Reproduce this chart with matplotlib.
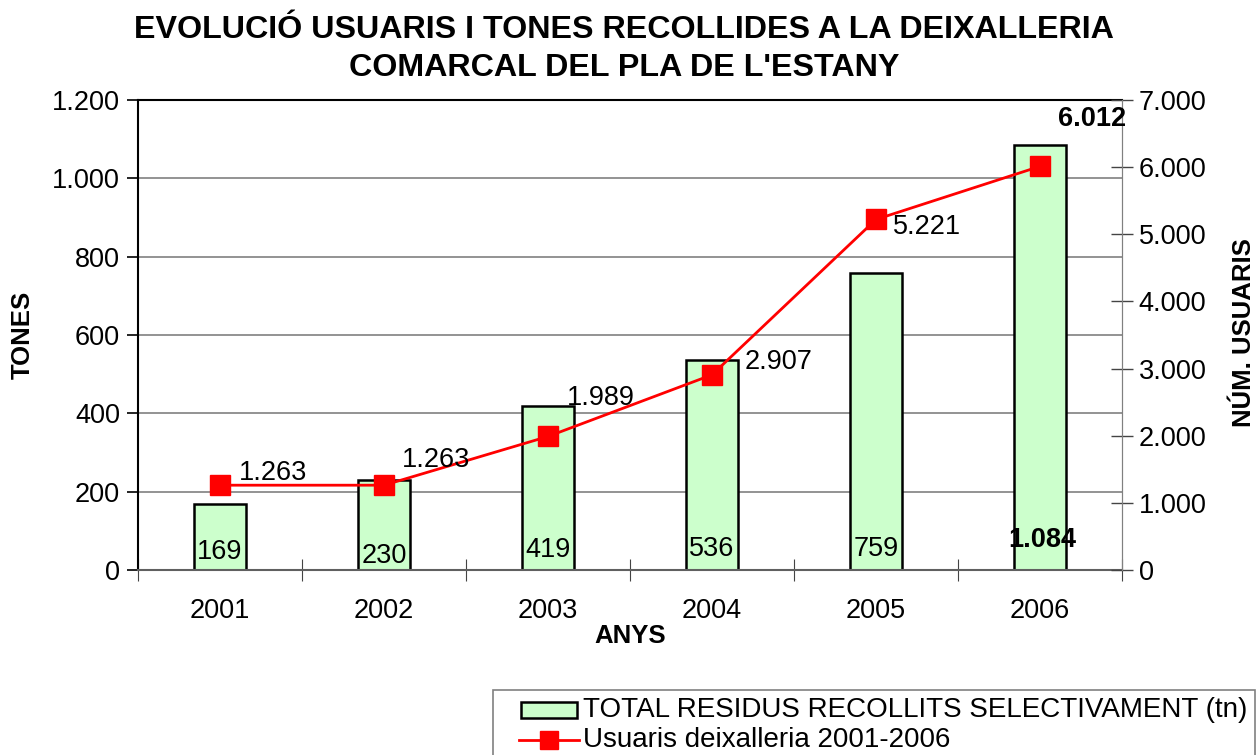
import matplotlib
matplotlib.use("Agg")
import matplotlib.pyplot as plt
from matplotlib.patches import Rectangle
from matplotlib.lines import Line2D

plt.rcParams['font.family'] = ['Liberation Sans', 'DejaVu Sans']

years = ['2001', '2002', '2003', '2004', '2005', '2006']
tones = [169, 230, 419, 536, 759, 1084]
usuaris = [1263, 1263, 1989, 2907, 5221, 6012]
tones_labels = ['169', '230', '419', '536', '759', '1.084']
usuaris_labels = ['1.263', '1.263', '1.989', '2.907', '5.221', '6.012']
left_ticks = [0, 200, 400, 600, 800, 1000, 1200]
left_ticklabels = ['0', '200', '400', '600', '800', '1.000', '1.200']
right_ticks = [0, 1000, 2000, 3000, 4000, 5000, 6000, 7000]
right_ticklabels = ['0', '1.000', '2.000', '3.000', '4.000', '5.000', '6.000', '7.000']
legend_labels = ['TOTAL RESIDUS RECOLLITS SELECTIVAMENT (tn)', 'Usuaris deixalleria 2001-2006']

W, H = 1259, 755
fig = plt.figure(figsize=(W / 100, H / 100), dpi=100)
ax = fig.add_axes([138 / W, 1 - 570 / H, (1122 - 138) / W, (570 - 100) / H])
x = list(range(len(years)))

def fx(px):
    return px / W
def fy(py):
    return 1 - py / H

ax.bar(x, tones, width=0.32, color='#CCFFCC', edgecolor='black', linewidth=1.8, zorder=2)
ax.set_xlim(-0.5, 5.5)
ax.set_ylim(0, 1200)
ax.set_yticks(left_ticks)
ax.set_yticklabels(left_ticklabels, fontsize=19.5)
ax.yaxis.grid(True, color='#808080', linewidth=1.2, zorder=0)
ax.set_axisbelow(True)
ax.set_xticks([i + 0.5 for i in range(-1, 6)])
ax.set_xticklabels([])
ax.set_xticks(x, minor=True)
ax.set_xticklabels(years, minor=True, fontsize=19.5)
ax.tick_params(axis='x', which='major', direction='inout', length=16, color='#444444')
ax.tick_params(axis='x', which='minor', length=0, pad=20)
ax.tick_params(axis='y', direction='out', length=8, width=1.2, pad=5)
ax.spines['left'].set_linewidth(1.5)
ax.spines['top'].set_linewidth(1.5)
ax.spines['bottom'].set_color('#606060')
ax.spines['bottom'].set_linewidth(1.5)
ax.spines['right'].set_color('#808080')
ax.set_xlabel('ANYS', fontsize=18.5, fontweight='bold', labelpad=0)
fig.text(fx(23), fy(335), 'TONES', rotation=90, ha='center', va='center',
         fontsize=18.5, fontweight='bold')

bar_off = [18, 14, 20, 21, 21, 30]
for i, lab in enumerate(tones_labels):
    bold = (i == len(tones_labels) - 1)
    ax.annotate(lab, (i, 0), xytext=(2 if bold else 0, bar_off[i]), textcoords='offset pixels',
                ha='center', va='center', fontsize=19.5,
                fontweight='bold' if bold else 'normal', zorder=3)

ax2 = ax.twinx()
ax2.plot(x, usuaris, color='red', linewidth=2, marker='s', markersize=15, zorder=4)
ax2.set_ylim(0, 7000)
ax2.set_yticks(right_ticks)
ax2.set_yticklabels(right_ticklabels, fontsize=19.5)
ax2.tick_params(axis='y', direction='inout', length=16, width=1.0, color='#444444', pad=4)
for sp in ['left', 'top', 'bottom']:
    ax2.spines[sp].set_visible(False)
ax2.spines['right'].set_color('#808080')
fig.text(fx(1244), fy(333), 'NÚM. USUARIS', rotation=90, ha='center', va='center',
         fontsize=18.5, fontweight='bold')

offsets = [(53, 12), (52, 25), (53, 38), (67, 13), (51, -8), (52, 47)]
for i, (v, lab) in enumerate(zip(usuaris, usuaris_labels)):
    bold = (i == len(usuaris) - 1)
    ax2.annotate(lab, (i, v), xytext=offsets[i], textcoords='offset pixels',
                 ha='center', va='center', fontsize=19.5,
                 fontweight='bold' if bold else 'normal', zorder=5)

fig.text(624 / W, fy(30), 'EVOLUCIÓ USUARIS I TONES RECOLLIDES A LA DEIXALLERIA',
         ha='center', va='center', fontsize=23.2, fontweight='bold')
fig.text(624 / W, fy(68), 'COMARCAL DEL PLA DE L\'ESTANY',
         ha='center', va='center', fontsize=23.2, fontweight='bold')

# legend (manual, partly cut by the bottom edge as in the reference)
frame = Rectangle((fx(493), fy(770)), fx(1255) - fx(493), fy(690) - fy(770),
                  transform=fig.transFigure, facecolor='white', edgecolor='#808080',
                  linewidth=1.2, zorder=1)
fig.patches.append(frame)
patch = Rectangle((fx(521), fy(718)), fx(577) - fx(521), fy(702) - fy(718),
                  transform=fig.transFigure, facecolor='#CCFFCC', edgecolor='black',
                  linewidth=1.8, zorder=2)
fig.patches.append(patch)
fig.lines.append(Line2D([fx(519), fx(579)], [fy(740), fy(740)], transform=fig.transFigure,
                        color='red', linewidth=2, zorder=2))
fig.lines.append(Line2D([fx(549)], [fy(740)], transform=fig.transFigure, color='red',
                        marker='s', markersize=13, linestyle='none', zorder=3))
fig.text(fx(583), fy(710), legend_labels[0], ha='left', va='center', fontsize=20)
fig.text(fx(583), fy(740), legend_labels[1], ha='left', va='center', fontsize=20)

fig.savefig('out.png', dpi=100)
